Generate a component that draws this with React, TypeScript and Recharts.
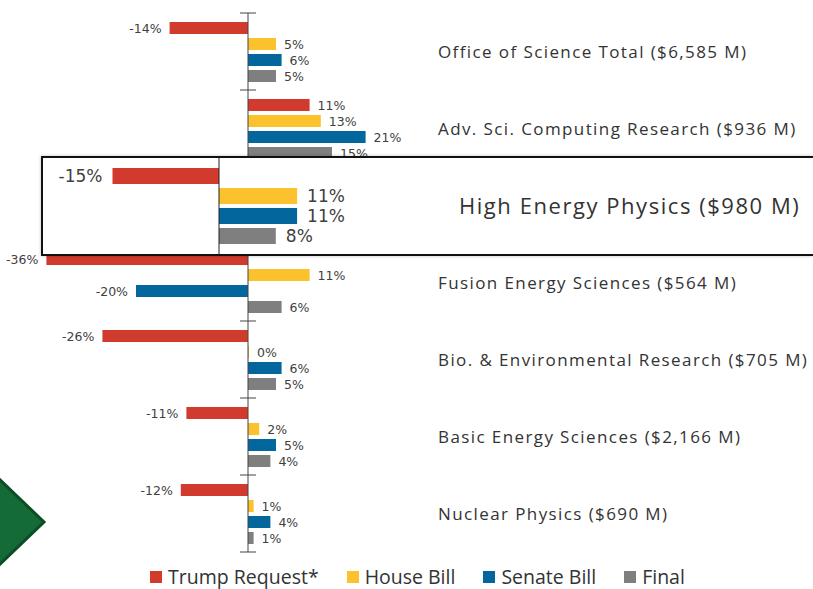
import { BarChart, Bar, XAxis, YAxis, LabelList, Legend, ReferenceLine } from 'recharts';

const categories = [
  'Office of Science Total ($6,585 M)',
  'Adv. Sci. Computing Research ($936 M)',
  'High Energy Physics ($980 M)',
  'Fusion Energy Sciences ($564 M)',
  'Bio. & Environmental Research ($705 M)',
  'Basic Energy Sciences ($2,166 M)',
  'Nuclear Physics ($690 M)',
];
const trumpRequest = [-14, 11, -15, -36, -26, -11, -12];
const houseBill = [5, 13, 11, 11, 0, 2, 1];
const senateBill = [6, 21, 11, -20, 6, 5, 4];
const finalBill = [5, 15, 8, 6, 5, 4, 1];
const seriesNames = ['Trump Request*', 'House Bill', 'Senate Bill', 'Final'];

const HIGHLIGHT = 2; // High Energy Physics gets the zoomed box

const COLORS = {
  trump: '#d13b2e',
  house: '#fbc22d',
  senate: '#03679e',
  final: '#7f7f7f',
};

const rows = categories.map((name, i) => ({
  name,
  trump: trumpRequest[i],
  house: houseBill[i],
  senate: senateBill[i],
  final: finalBill[i],
}));
const hepRow = [rows[HIGHLIGHT]];

// main chart frame
const W = 813;
const H = 589;
const M = { top: 13, right: 341, bottom: 13, left: 23 };
const AXIS_W = 1;
const LEGEND_H = 24;
const DOMAIN: [number, number] = [-40, 40];
const PLOT_L = M.left + AXIS_W;
const ZERO_X = PLOT_L + ((0 - DOMAIN[0]) / (DOMAIN[1] - DOMAIN[0])) * (W - PLOT_L - M.right);
const BAND = (H - M.top - M.bottom - LEGEND_H) / categories.length;
const LABEL_X = 438;

// inset frame
const INSET_W = 770;
const INSET_H = 96;
const INSET_M = { top: 0, right: 452, bottom: 0, left: 33 };
const INSET_DOMAIN: [number, number] = [-20, 20];
const INSET_LABEL_X = 416;

// skipRow: the row that sits under the inset box gets no text in the main chart
const valueLabel = (fontSize: number, gap: number, skipRow = -1) => (props: any) => {
  if (props.index === skipRow) return null;
  const vb = props.viewBox ?? props;
  const { x, y, width, height } = vb;
  const value = props.value;
  const left = Math.min(x, x + width);
  const right = Math.max(x, x + width);
  const neg = value < 0;
  return (
    <text
      x={neg ? left - gap : right + gap}
      y={y + height / 2}
      textAnchor={neg ? 'end' : 'start'}
      dominantBaseline="central"
      fontFamily="DejaVu Sans"
      fontSize={fontSize}
      fill="#404040"
    >
      {value}%
    </text>
  );
};

const renderCategoryTick = (props: any) => {
  const { y, payload, index } = props;
  return (
    <g key={`cat-${index}`}>
      <line x1={ZERO_X - 8} x2={ZERO_X + 8} y1={y - BAND / 2} y2={y - BAND / 2} stroke="#444" />
      {index === categories.length - 1 && (
        <line x1={ZERO_X - 8} x2={ZERO_X + 8} y1={y + BAND / 2} y2={y + BAND / 2} stroke="#444" />
      )}
      {index !== HIGHLIGHT && (
        <text
          x={LABEL_X}
          y={y}
          dominantBaseline="central"
          fontFamily="Open Sans"
          fontSize={17}
          letterSpacing={1.4}
          fill="#333"
        >
          {payload.value}
        </text>
      )}
    </g>
  );
};

const renderInsetTick = (props: any) => {
  const { y, payload } = props;
  return (
    <text
      key="hep"
      x={INSET_LABEL_X}
      y={y - 1}
      dominantBaseline="central"
      fontFamily="Open Sans"
      fontSize={22}
      letterSpacing={1.55}
      fill="#333"
    >
      {payload.value}
    </text>
  );
};

const renderLegend = (props: any) => {
  const items = [...(props.payload ?? [])].sort(
    (a: any, b: any) => seriesNames.indexOf(a.value) - seriesNames.indexOf(b.value),
  );
  return (
    <div
      style={{
        width: W,
        height: LEGEND_H,
        display: 'flex',
        justifyContent: 'center',
        alignItems: 'center',
        gap: 28,
        fontFamily: 'Open Sans',
        fontSize: 19.5,
        lineHeight: '22px',
        color: '#333',
        paddingLeft: 22,
        boxSizing: 'border-box',
      }}
    >
      {items.map((p: any) => (
        <div key={p.value} style={{ display: 'flex', alignItems: 'center', flexShrink: 0 }}>
          <div style={{ width: 12, height: 12, background: p.color, marginRight: 6 }} />
          <span style={{ whiteSpace: 'nowrap' }}>{p.value}</span>
        </div>
      ))}
    </div>
  );
};

export default function App() {
  const mainLabel = valueLabel(12.5, 8, HIGHLIGHT);
  const insetLabel = valueLabel(17, 10);
  return (
    <div
      style={{
        position: 'absolute',
        left: 0,
        top: 0,
        width: W,
        height: H,
        overflow: 'hidden',
        background: '#fff',
      }}
    >
      <BarChart width={W} height={H} data={rows} layout="vertical" margin={M} barSize={12} barGap={4}>
        <XAxis type="number" domain={DOMAIN} hide />
        <YAxis
          type="category"
          dataKey="name"
          width={AXIS_W}
          axisLine={false}
          tickLine={false}
          interval={0}
          tick={renderCategoryTick}
        />
        <Bar dataKey="trump" name={seriesNames[0]} fill={COLORS.trump} isAnimationActive={false}>
          <LabelList dataKey="trump" content={mainLabel} />
        </Bar>
        <Bar
          dataKey="house"
          name={seriesNames[1]}
          fill={COLORS.house}
          minPointSize={1}
          isAnimationActive={false}
        >
          <LabelList dataKey="house" content={mainLabel} />
        </Bar>
        <Bar dataKey="senate" name={seriesNames[2]} fill={COLORS.senate} isAnimationActive={false}>
          <LabelList dataKey="senate" content={mainLabel} />
        </Bar>
        <Bar dataKey="final" name={seriesNames[3]} fill={COLORS.final} isAnimationActive={false}>
          <LabelList dataKey="final" content={mainLabel} />
        </Bar>
        <ReferenceLine x={0} stroke="#444" />
        <Legend
          verticalAlign="bottom"
          content={renderLegend}
          wrapperStyle={{ left: 0, width: W, bottom: 0 }}
        />
      </BarChart>

      <div
        style={{
          position: 'absolute',
          left: 41,
          top: 156,
          width: W - 41,
          height: INSET_H + 4,
          boxSizing: 'border-box',
          border: '2px solid #111',
          borderRight: 'none',
          background: '#fff',
          boxShadow: '0 0 3px rgba(0,0,0,0.25)',
        }}
      >
        <BarChart
          width={INSET_W}
          height={INSET_H}
          data={hepRow}
          layout="vertical"
          margin={INSET_M}
          barSize={16}
          barGap={4}
        >
          <XAxis type="number" domain={INSET_DOMAIN} hide />
          <YAxis
            type="category"
            dataKey="name"
            width={AXIS_W}
            axisLine={false}
            tickLine={false}
            interval={0}
            tick={renderInsetTick}
          />
          <Bar dataKey="trump" fill={COLORS.trump} isAnimationActive={false}>
            <LabelList dataKey="trump" content={insetLabel} />
          </Bar>
          <Bar dataKey="house" fill={COLORS.house} isAnimationActive={false}>
            <LabelList dataKey="house" content={insetLabel} />
          </Bar>
          <Bar dataKey="senate" fill={COLORS.senate} isAnimationActive={false}>
            <LabelList dataKey="senate" content={insetLabel} />
          </Bar>
          <Bar dataKey="final" fill={COLORS.final} isAnimationActive={false}>
            <LabelList dataKey="final" content={insetLabel} />
          </Bar>
          <ReferenceLine x={0} stroke="#222" />
        </BarChart>
      </div>

      <svg width={60} height={100} style={{ position: 'absolute', left: 0, top: 472 }}>
        <polygon
          points="-4,4 44,50 -4,96"
          fill="#146b37"
          stroke="#0d4d24"
          strokeWidth={3}
          strokeLinejoin="miter"
        />
      </svg>
    </div>
  );
}
